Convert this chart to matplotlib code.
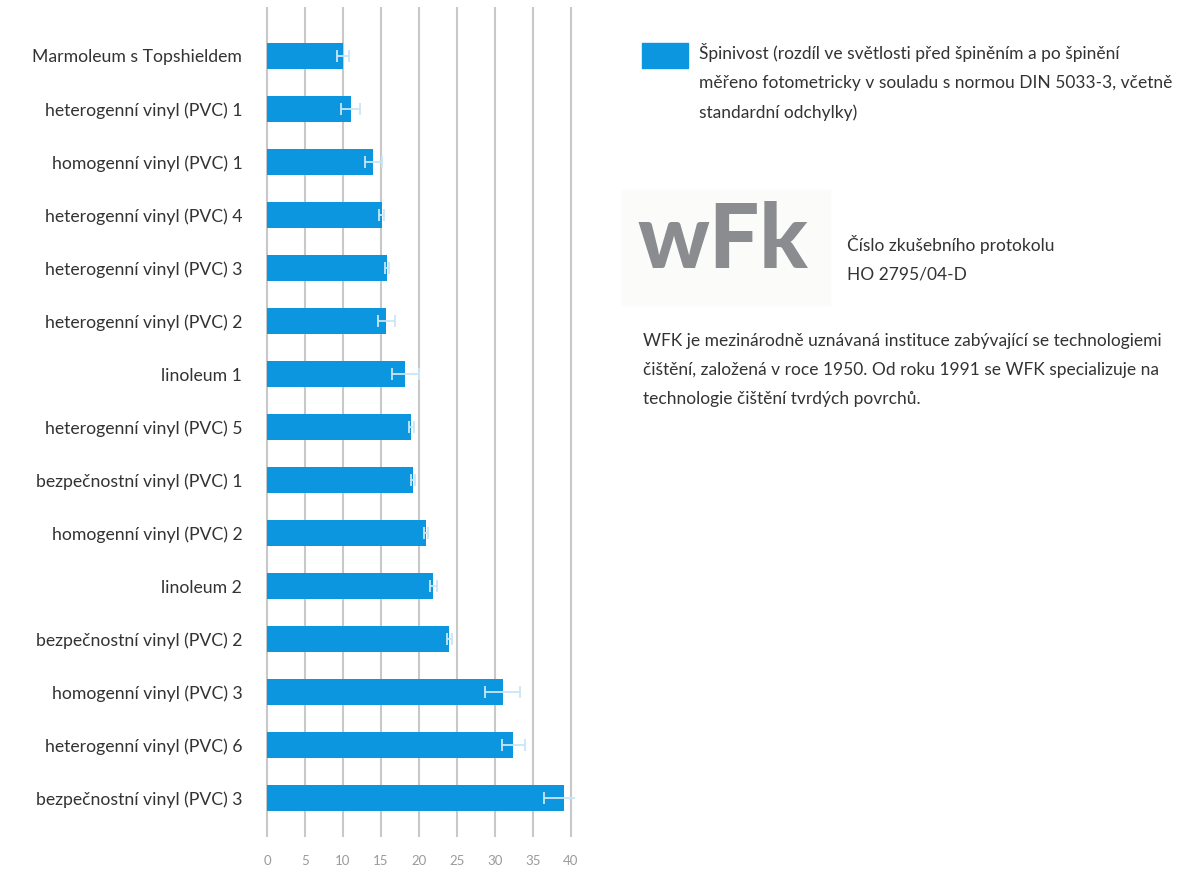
import matplotlib.pyplot as plt
from matplotlib.patches import Rectangle

# materialy (shora dolu) a hodnoty spinivosti
materials = [
    "Marmoleum s Topshieldem",
    "heterogenní vinyl (PVC) 1",
    "homogenní vinyl (PVC) 1",
    "heterogenní vinyl (PVC) 4",
    "heterogenní vinyl (PVC) 3",
    "heterogenní vinyl (PVC) 2",
    "linoleum 1",
    "heterogenní vinyl (PVC) 5",
    "bezpečnostní vinyl (PVC) 1",
    "homogenní vinyl (PVC) 2",
    "linoleum 2",
    "bezpečnostní vinyl (PVC) 2",
    "homogenní vinyl (PVC) 3",
    "heterogenní vinyl (PVC) 6",
    "bezpečnostní vinyl (PVC) 3",
]
soiling = [10.0, 11.0, 14.0, 15.1, 15.8, 15.7, 18.2, 19.0, 19.2, 20.9, 21.9, 24.0, 31.0, 32.4, 39.1]
std_dev = [0.8, 1.3, 1.1, 0.3, 0.3, 1.1, 1.8, 0.3, 0.3, 0.3, 0.5, 0.3, 2.3, 1.5, 2.7]
x_ticks = [0, 5, 10, 15, 20, 25, 30, 35, 40]

legend_text = ("Špinivost (rozdíl ve světlosti před špiněním a po špinění\n"
               "měřeno fotometricky v souladu s normou DIN 5033-3, včetně\n"
               "standardní odchylky)")
protocol_text = "Číslo zkušebního protokolu\nHO 2795/04-D"
wfk_text = ("WFK je mezinárodně uznávaná instituce zabývající se technologiemi\n"
            "čištění, založená v roce 1950. Od roku 1991 se WFK specializuje na\n"
            "technologie čištění tvrdých povrchů.")

bar_color = "#0c96df"
text_color = "#333333"

plt.rcParams["font.family"] = ["Lato", "DejaVu Sans"]

W, H = 1188, 874
fig = plt.figure(figsize=(W / 100, H / 100), dpi=100)
fig.patch.set_facecolor("white")

ax = fig.add_axes([263.2 / W, 37 / H, 311.6 / W, 830 / H])
ypos = list(range(len(materials)))

for t in x_ticks:
    ax.axvline(t, color="#c8c8c8", lw=1.5, zorder=1)

ax.barh(ypos, soiling, height=0.49, color=bar_color, zorder=2)
ax.errorbar(soiling, ypos, xerr=std_dev, fmt="none", ecolor="#c9e6f6",
            elinewidth=1.3, capsize=4, capthick=1.3, zorder=3)

ax.set_xlim(-0.5, 40.5)
ax.set_ylim(14.73, -0.92)
ax.set_yticks(ypos)
ax.set_yticklabels(materials, fontsize=12.7, color=text_color)
ax.set_xticks(x_ticks)
ax.set_xticklabels([str(t) for t in x_ticks], fontsize=9.5, color="#9a9a9a")
ax.tick_params(axis="y", length=0, pad=15)
ax.tick_params(axis="x", length=0, pad=13)
for s in ax.spines.values():
    s.set_visible(False)

# legenda
fig.patches.append(Rectangle((642 / W, 1 - 68 / H), 46 / W, 25 / H,
                             transform=fig.transFigure, color=bar_color))
fig.text(699 / W, 1 - 43 / H, legend_text, fontsize=12.5, color=text_color,
         va="top", ha="left", linespacing=2.0)

# logo WFK
fig.patches.append(Rectangle((622 / W, 1 - 305 / H), 208 / W, 115 / H,
                             transform=fig.transFigure, color="#fbfbfa", zorder=0))
fig.text(723 / W, 1 - 242 / H, "wFk", fontsize=64, fontweight="black",
         color="#8a8c90", ha="center", va="center")

fig.text(847 / W, 1 - 235 / H, protocol_text, fontsize=12.5, color=text_color,
         va="top", ha="left", linespacing=2.0)
fig.text(643 / W, 1 - 333 / H, wfk_text, fontsize=12.5, color=text_color,
         va="top", ha="left", linespacing=2.0)

fig.savefig("out.png", dpi=100, facecolor="white")
